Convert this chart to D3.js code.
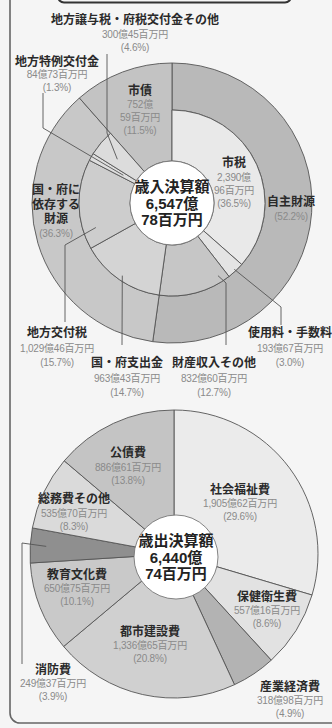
<!DOCTYPE html>
<html><head><meta charset="utf-8">
<script src="https://cdn.jsdelivr.net/npm/d3@7"></script>
<style>
html,body{margin:0;padding:0;background:#f5f5f5;}
svg{display:block;font-family:"Liberation Sans","Noto Sans CJK JP",sans-serif;}
</style></head><body>
<svg id="c" width="332" height="728"></svg>
<script>
// ---------- DATA ----------
const revCats = ["市税","使用料・手数料","財産収入その他","国・府支出金","地方交付税","地方特例交付金","地方譲与税・府税交付金その他","市債"];
const revPct  = [36.5, 3.0, 12.7, 14.7, 15.7, 1.3, 4.6, 11.5];
const revAmt  = ["2,390億96百万円","193億67百万円","832億60百万円","963億43百万円","1,029億46百万円","84億73百万円","300億45百万円","752億59百万円"];
const revGroups = ["自主財源","国・府に依存する財源","市債"];
const revGroupPct = [52.2, 36.3, 11.5];
const revTotal = ["歳入決算額","6,547億","78百万円"];

const expCats = ["社会福祉費","保健衛生費","産業経済費","都市建設費","教育文化費","消防費","総務費その他","公債費"];
const expPct  = [29.6, 8.6, 4.9, 20.8, 10.1, 3.9, 8.3, 13.8];
const expAmt  = ["1,905億62百万円","557億16百万円","318億98百万円","1,336億65百万円","650億75百万円","249億37百万円","535億70百万円","886億61百万円"];
const expTotal = ["歳出決算額","6,440億","74百万円"];

// ---------- STYLE / LAYOUT ----------
const revInnerColors = ["#e9e9e9","#e4e4e4","#c6c6c6","#d4d4d4","#cdcdcd","#dedede","#dcdcdc","#c3c3c3"];
const revOuterColors = ["#b9b9b9","#c8c8c8","#c3c3c3"];
const expColors = ["#ebebeb","#e2e2e2","#b3b3b3","#d0d0d0","#c9c9c9","#8f8f8f","#dadada","#c4c4c4"];
const LINE = "#555";
const NAME = "#2a2a2a", VAL = "#8a8a8a";

const svg = d3.select("#c");

// frame
svg.append("rect").attr("x",10).attr("y",-30).attr("width",350).attr("height",753)
  .attr("rx",10).attr("fill","none").attr("stroke","#666").attr("stroke-width",1.6);
svg.append("rect").attr("x",58).attr("y",-30).attr("width",233).attr("height",32.5)
  .attr("rx",6).attr("fill","#f5f5f5").attr("stroke","#333").attr("stroke-width",2);

function fmtPct(p){ return "(" + p.toFixed(1) + "%)"; }

// ---------- UPPER: revenue donut ----------
const U = {cx:172, cy:203, r0:42, r1:93, r2:140};
const gU = svg.append("g").attr("transform",`translate(${U.cx},${U.cy})`);
const pie = d3.pie().sort(null).value(d=>d);
const innerArcs = pie(revPct);
const outerArcs = pie(revGroupPct);
const arcGen = d3.arc();

gU.selectAll("path.o").data(outerArcs).join("path")
  .attr("d",(d,i)=>arcGen({startAngle:d.startAngle,endAngle:d.endAngle,innerRadius: i===2?U.r0:U.r1,outerRadius:U.r2}))
  .attr("fill",(d,i)=>revOuterColors[i]).attr("stroke",LINE).attr("stroke-width",0.9);
gU.selectAll("path.i").data(innerArcs.slice(0,7)).join("path")
  .attr("d",d=>arcGen({startAngle:d.startAngle,endAngle:d.endAngle,innerRadius:U.r0,outerRadius:U.r1}))
  .attr("fill",(d,i)=>revInnerColors[i]).attr("stroke",LINE).attr("stroke-width",0.9);
gU.append("circle").attr("r",U.r0).attr("fill","#fff").attr("stroke","#777").attr("stroke-width",0.9);

function polar(c, a, r){ return [c.cx + r*Math.sin(a), c.cy - r*Math.cos(a)]; }
function arcPt(c, d, frac, r){ return polar(c, d.startAngle + (d.endAngle-d.startAngle)*frac, r); }

function drawLabel(x, lines){
  lines.forEach(l=>{
    svg.append("text").attr("x",x).attr("y",l.y + (l.b?4.3:3.6)).attr("text-anchor","middle")
      .attr("font-size", l.b ? 12 : 10).attr("font-weight", l.b ? 700 : 400)
      .attr("letter-spacing", l.b ? 0 : -0.2)
      .attr("fill", l.b ? NAME : VAL).text(l.t);
  });
}
function drawLeader(pts){
  svg.append("path").attr("d", d3.line()(pts)).attr("fill","none").attr("stroke",LINE).attr("stroke-width",0.9);
}

drawLeader([[107,54],[107,133], arcPt(U, innerArcs[6], 0.4, 70)]);
drawLeader([[43,93],[43,128], arcPt(U, innerArcs[5], 0.5, 56)]);
drawLeader([[65,322],[65,245], arcPt(U, innerArcs[4], 0.2, 80)]);
drawLeader([[122,345], arcPt(U, innerArcs[3], 0.5, 88)]);
drawLeader([[226,345],[226,283], arcPt(U, innerArcs[2], 0.12, 86)]);
drawLeader([[281,325],[281,307], arcPt(U, innerArcs[1], 0.5, 91)]);

const splitAmt = s => { const k = s.indexOf("億")+1; return [s.slice(0,k), s.slice(k)]; };
drawLabel(135,[{t:revCats[6],b:1,y:20},{t:revAmt[6],y:34},{t:fmtPct(revPct[6]),y:47}]);
drawLabel(57,[{t:revCats[5],b:1,y:62},{t:revAmt[5],y:74},{t:fmtPct(revPct[5]),y:87}]);
drawLabel(140,[{t:revCats[7],b:1,y:91},{t:splitAmt(revAmt[7])[0],y:104},{t:splitAmt(revAmt[7])[1],y:117},{t:fmtPct(revPct[7]),y:130}]);
drawLabel(234,[{t:revCats[0],b:1,y:163},{t:splitAmt(revAmt[0])[0],y:177},{t:splitAmt(revAmt[0])[1],y:190},{t:fmtPct(revPct[0]),y:203}]);
drawLabel(291,[{t:revGroups[0],b:1,y:202},{t:fmtPct(revGroupPct[0]),y:216}]);
drawLabel(56,[{t:"国・府に",b:1,y:190},{t:"依存する",b:1,y:205},{t:"財源",b:1,y:219},{t:fmtPct(revGroupPct[1]),y:233}]);
drawLabel(57,[{t:revCats[4],b:1,y:333},{t:revAmt[4],y:348},{t:fmtPct(revPct[4]),y:362}]);
drawLabel(127,[{t:revCats[3],b:1,y:363},{t:revAmt[3],y:378},{t:fmtPct(revPct[3]),y:392}]);
drawLabel(214,[{t:revCats[2],b:1,y:363},{t:revAmt[2],y:378},{t:fmtPct(revPct[2]),y:392}]);
drawLabel(290,[{t:revCats[1],b:1,y:333},{t:revAmt[1],y:348},{t:fmtPct(revPct[1]),y:362}]);

function centerText(x, y0, lines){
  lines.forEach((s,i)=>svg.append("text").attr("x",x).attr("y",y0+i*16.5+5.3)
    .attr("text-anchor","middle").attr("font-size",15).attr("font-weight",700).attr("fill","#222").text(s));
}
centerText(U.cx, 187, revTotal);

// ---------- LOWER: expenditure pie ----------
const L = {cx:174, cy:554, r:144};
const gL = svg.append("g").attr("transform",`translate(${L.cx},${L.cy})`);
const expArcs = pie(expPct);
gL.selectAll("path").data(expArcs).join("path")
  .attr("d",d=>arcGen({startAngle:d.startAngle,endAngle:d.endAngle,innerRadius:0,outerRadius:L.r}))
  .attr("fill",(d,i)=>expColors[i]).attr("stroke",LINE).attr("stroke-width",0.9);
svg.append("circle").attr("cx",176).attr("cy",557).attr("r",42).attr("fill","#fff").attr("stroke","#777").attr("stroke-width",0.9);
centerText(176, 541, expTotal);

drawLeader([[22,664],[22,543], arcPt(L, expArcs[5], 0.5, 128)]);

drawLabel(128,[{t:expCats[7],b:1,y:453},{t:expAmt[7],y:467},{t:fmtPct(expPct[7]),y:480}]);
drawLabel(240,[{t:expCats[0],b:1,y:490},{t:expAmt[0],y:503},{t:fmtPct(expPct[0]),y:516}]);
drawLabel(74,[{t:expCats[6],b:1,y:499},{t:expAmt[6],y:513},{t:fmtPct(expPct[6]),y:526}]);
drawLabel(77,[{t:expCats[4],b:1,y:575},{t:expAmt[4],y:588},{t:fmtPct(expPct[4]),y:601}]);
drawLabel(150,[{t:expCats[3],b:1,y:632},{t:expAmt[3],y:645},{t:fmtPct(expPct[3]),y:658}]);
drawLabel(267,[{t:expCats[1],b:1,y:597},{t:expAmt[1],y:610},{t:fmtPct(expPct[1]),y:623}]);
drawLabel(53,[{t:expCats[5],b:1,y:670},{t:expAmt[5],y:683},{t:fmtPct(expPct[5]),y:696}]);
drawLabel(290,[{t:expCats[2],b:1,y:687},{t:expAmt[2],y:700},{t:fmtPct(expPct[2]),y:713}]);
</script></body></html>
